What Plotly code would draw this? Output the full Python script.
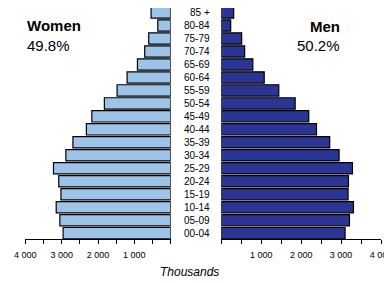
import plotly.graph_objects as go

ages = ["00-04", "05-09", "10-14", "15-19", "20-24", "25-29", "30-34", "35-39", "40-44",
        "45-49", "50-54", "55-59", "60-64", "65-69", "70-74", "75-79", "80-84", "85 +"]
women = [2960, 3050, 3150, 3020, 3080, 3225, 2885, 2690, 2320,
         2170, 1825, 1475, 1200, 915, 715, 605, 355, 540]
men = [3100, 3210, 3310, 3175, 3185, 3285, 2950, 2715, 2385,
       2190, 1850, 1440, 1075, 790, 585, 510, 235, 310]

tick_vals = [0, 500, 1000, 1500, 2000, 2500, 3000, 3500, 4000]
tick_text = ["", "", "1 000", "", "2 000", "", "3 000", "", "4 000"]

# The page body has an 8px margin; the figure is placed at (8, 8) in the window.
OFF = 8
W, H = 392, 283


def px(xs):
    return (xs - OFF) / W


def py(ys):
    return 1 - (ys - OFF) / H


fig = go.Figure()

fig.add_trace(go.Bar(y=ages, x=women, orientation="h", xaxis="x", yaxis="y",
                     marker=dict(color="#9DC3E9", line=dict(color="#000000", width=1.2)),
                     showlegend=False, hoverinfo="x+y"))
fig.add_trace(go.Bar(y=ages, x=men, orientation="h", xaxis="x2", yaxis="y2",
                     marker=dict(color="#2B3594", line=dict(color="#000000", width=1.2)),
                     showlegend=False, hoverinfo="x+y"))

font = "Liberation Sans, Arial"
axis_common = dict(showgrid=False, zeroline=False, showline=True, linecolor="#000000",
                   linewidth=1, ticks="outside", ticklen=4, tickcolor="#000000",
                   tickvals=tick_vals, ticktext=tick_text, automargin=False,
                   ticklabelstandoff=3,
                   tickfont=dict(family=font, size=9, color="#000000"))

ydom = [py(239), 1]
yr = [-0.45, 17.35]
fig.update_layout(
    width=W, height=H,
    margin=dict(l=0, r=0, t=0, b=0, autoexpand=False),
    paper_bgcolor="white", plot_bgcolor="white",
    bargap=0.13,
    xaxis=dict(domain=[px(25.3), px(170.7)], range=[4000, 0], anchor="y", **axis_common),
    xaxis2=dict(domain=[px(221.3), px(381)], range=[0, 4000], anchor="y2", **axis_common),
    yaxis=dict(domain=ydom, type="category", range=yr, anchor="x",
               showticklabels=False, showgrid=False, zeroline=False, showline=False, ticks=""),
    yaxis2=dict(domain=ydom, type="category", range=yr, anchor="x2",
                showticklabels=False, showgrid=False, zeroline=False, showline=False, ticks=""),
)

for a in ages:
    fig.add_annotation(x=px(212.3), xref="paper", y=a, yref="y", text=a, showarrow=False,
                       xanchor="right", yanchor="middle",
                       font=dict(family=font, size=10, color="#000000"))

fig.add_annotation(x=px(25), y=py(25.5), xref="paper", yref="paper", text="<b>Women</b>",
                   showarrow=False, xanchor="left", yanchor="middle",
                   font=dict(family=font, size=15, color="#000000"))
fig.add_annotation(x=px(25), y=py(45), xref="paper", yref="paper", text="49.8%",
                   showarrow=False, xanchor="left", yanchor="middle",
                   font=dict(family=font, size=15, color="#000000"))
fig.add_annotation(x=px(341.5), y=py(26), xref="paper", yref="paper", text="<b>Men</b>",
                   showarrow=False, xanchor="right", yanchor="middle",
                   font=dict(family=font, size=15, color="#000000"))
fig.add_annotation(x=px(341.5), y=py(45), xref="paper", yref="paper", text="50.2%",
                   showarrow=False, xanchor="right", yanchor="middle",
                   font=dict(family=font, size=15, color="#000000"))
fig.add_annotation(x=px(189.5), y=py(272), xref="paper", yref="paper", text="<i>Thousands</i>",
                   showarrow=False, xanchor="center", yanchor="middle",
                   font=dict(family=font, size=12, color="#000000"))

fig.write_html("out.html")
